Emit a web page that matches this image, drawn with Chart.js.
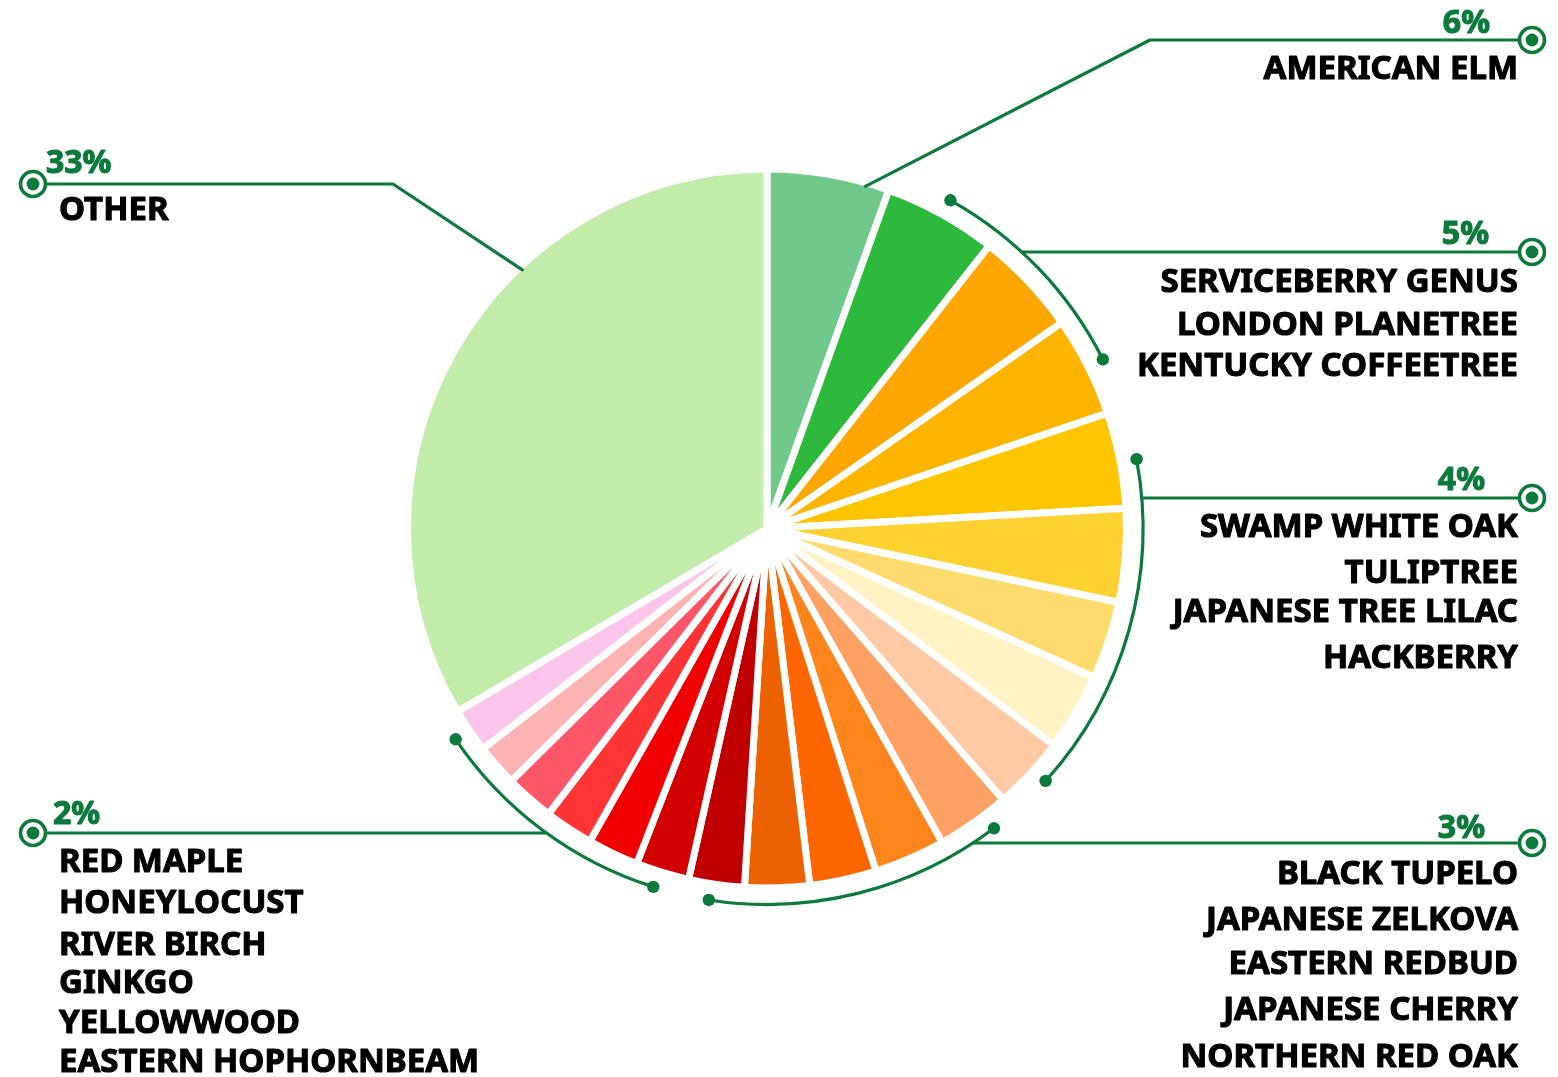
<!DOCTYPE html>
<html><head><meta charset="utf-8">
<script src="https://cdn.jsdelivr.net/npm/chart.js@4.4.1/dist/chart.umd.min.js"></script>
<style>html,body{margin:0;padding:0;background:#fff}#wrap{width:1558px;height:1077px;position:relative}canvas{display:block}</style>
</head><body><div id="wrap"><canvas id="c"></canvas></div>
<script>
// ---- data ----
const categories = ["American elm","Serviceberry genus","London planetree","Kentucky coffeetree",
  "Swamp white oak","Tuliptree","Japanese tree lilac","Hackberry",
  "Black tupelo","Japanese zelkova","Eastern redbud","Japanese cherry","Northern red oak",
  "Red maple","Honeylocust","River birch","Ginkgo","Yellowwood","Eastern hophornbeam","",
  "Other"];
const values = [5.5,5.1,4.7,4.5,4.3,4.2,3.5,3.5,3.3,3.3,3.2,3.0,2.9,2.5,2.4,2.3,2.2,2.2,1.9,2.0,33.5];
const percentLabels = ["6%","5%","4%","3%","2%","33%"];

// ---- styles ----
const sliceColors = ["#70c98a","#2db93c","#ffa600","#ffb500","#ffc600","#ffd232","#ffda6c","#fff3c3",
  "#ffcaa3","#ffa162","#ff851c","#ff6600","#ec6200",
  "#c00000","#d30000","#f00000","#ff3434","#ff5668","#feb3b3","#fbc5ec",
  "#c2eca9"];
const GREEN = "#0b7a3b";

// ---- annotation layout ----
const groups = [
  {first:0,last:0,side:'right',lineY:40,leader:{frac:0.81,bendX:1150},pctX:1490,pctY:33,labelX:1518,labelYs:[79]},
  {first:1,last:3,side:'right',lineY:252,arc:[9.4,8.0],pctX:1489,pctY:244,labelX:1518,labelYs:[292,335,376]},
  {first:4,last:7,side:'right',lineY:498,arc:[8.1,-5.1],pctX:1485,pctY:490,labelX:1518,labelYs:[537,583,622,668]},
  {first:8,last:12,side:'right',lineY:843,arc:[15.8,-5.3],pctX:1485,pctY:838,labelX:1518,labelYs:[884,930,974,1020,1067]},
  {first:13,last:19,side:'left',lineY:833,arc:[14.0,3.5],pctX:53,pctY:824,labelX:59,labelYs:[872,913,955,993,1033,1072]},
  {first:20,last:20,side:'left',lineY:184,leader:{frac:0.64,bendX:393},pctX:46,pctY:173,labelX:59,labelYs:[220]}
];
const BORDER = 7;

function heavyText(ctx, txt, x, y, color){
  ctx.fillStyle = color; ctx.strokeStyle = color; ctx.lineWidth = 1.1; ctx.lineJoin='round';
  ctx.fillText(txt, x, y); ctx.strokeText(txt, x, y);
}

const annot = {
  id:'annot',
  afterDraw(chart){
    const ctx = chart.ctx;
    const meta = chart.getDatasetMeta(0);
    const a0 = meta.data[0];
    const cx = a0.x, cy = a0.y;
    const Rv = a0.outerRadius - BORDER/2;
    const Ra = Rv + 20;
    const deg = Math.PI/180;
    ctx.save();
    groups.forEach((g,gi)=>{
      ctx.strokeStyle = GREEN; ctx.fillStyle = GREEN; ctx.lineWidth = 3.2; ctx.lineCap='round'; ctx.lineJoin='round';
      const s = meta.data[g.first].startAngle, e = meta.data[g.last].endAngle;
      const mx = g.side==='right' ? 1532 : 33;
      ctx.beginPath();
      if (g.leader){
        const a = s + (e-s)*g.leader.frac;
        ctx.moveTo(cx + Rv*Math.cos(a), cy + Rv*Math.sin(a));
        ctx.lineTo(g.leader.bendX, g.lineY);
        ctx.lineTo(mx, g.lineY);
        ctx.stroke();
      } else {
        const as = s + g.arc[0]*deg, ae = e - g.arc[1]*deg;
        ctx.arc(cx, cy, Ra, as, ae);
        ctx.stroke();
        [as,ae].forEach(a=>{ctx.beginPath();ctx.arc(cx+Ra*Math.cos(a),cy+Ra*Math.sin(a),6.2,0,2*Math.PI);ctx.fill();});
        const dy = g.lineY - cy;
        const dx = Math.sqrt(Math.max(Ra*Ra-dy*dy,0));
        const x0 = g.side==='right' ? cx+dx : cx-dx;
        ctx.beginPath(); ctx.moveTo(x0, g.lineY); ctx.lineTo(mx, g.lineY); ctx.stroke();
      }
      // marker
      ctx.fillStyle='#fff';
      ctx.beginPath(); ctx.arc(mx, g.lineY, 12.5, 0, 2*Math.PI); ctx.fill();
      ctx.lineWidth = 3.6;
      ctx.beginPath(); ctx.arc(mx, g.lineY, 12.5, 0, 2*Math.PI); ctx.stroke();
      ctx.fillStyle=GREEN;
      ctx.beginPath(); ctx.arc(mx, g.lineY, 6.4, 0, 2*Math.PI); ctx.fill();
      // texts
      ctx.textAlign = g.side==='right' ? 'right' : 'left';
      ctx.textBaseline='alphabetic';
      ctx.font = "bold 32px 'Noto Sans'";
      heavyText(ctx, percentLabels[gi], g.pctX, g.pctY, GREEN);
      ctx.font = "bold 33px 'Noto Sans'";
      let k=0;
      for(let i=g.first;i<=g.last;i++){
        if(!categories[i]) continue;
        heavyText(ctx, categories[i].toUpperCase(), g.labelX, g.labelYs[k++], '#000');
      }
    });
    ctx.restore();
  }
};

new Chart(document.getElementById('c'), {
  type:'pie',
  data:{labels:categories,datasets:[{data:values,backgroundColor:sliceColors,borderColor:'#fff',borderWidth:BORDER,hoverOffset:0}]},
  options:{
    responsive:true, maintainAspectRatio:false, animation:false,
    radius: 359.5,
    layout:{padding:{left:300,right:324,top:100,bottom:120}},
    plugins:{legend:{display:false},tooltip:{enabled:false}}
  },
  plugins:[annot]
});
</script></body></html>
